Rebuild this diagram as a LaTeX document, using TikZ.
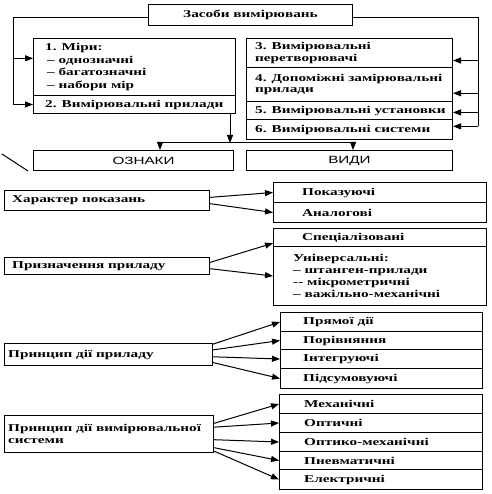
\documentclass[tikz,border=0pt]{standalone}
\usepackage{fontspec}
\newfontfamily\sw[FakeStretch=1.45]{Liberation Serif}
\newfontfamily\ssw[FakeStretch=1.45]{Liberation Sans}
\usetikzlibrary{arrows.meta,calc}
\begin{document}
\begin{tikzpicture}[x=1pt,y=-1pt,
  box/.style={draw, line width=1pt, inner sep=0pt, anchor=north west},
  f/.style={font=\sw\bfseries\fontsize{10.5}{#1}\selectfont},
  f/.default=12,
  txt/.style={inner sep=0pt, anchor=west, align=left, f=#1},
  txt/.default=12,
  sf/.style={inner sep=0pt, font=\ssw\fontsize{10.5}{12}\selectfont},
  arr/.style={line width=1pt, -{Triangle[length=8pt,width=6pt]}},
  ln/.style={line width=1pt}]
\useasboundingbox (0,0) rectangle (491,494);

% top
\node[box, minimum width=204pt, minimum height=21pt, f] (top) at (148,4) {Засоби вимірювань};

% left group
\node[box, minimum width=202pt, minimum height=57pt] (L1) at (33,38) {};
\node[box, minimum width=202pt, minimum height=18pt] (L2) at (33,95) {};
\node[txt=12.5] (tL1) at ([xshift=12pt]L1.west) {1. Міри:\\\hspace*{2pt}– однозначні\\\hspace*{2pt}– багатозначні\\\hspace*{2pt}– набори мір};
\node[txt] (tL2) at ([xshift=12pt]L2.west) {2. Вимірювальні прилади};

% right group
\node[box, minimum width=206pt, minimum height=29pt] (R3) at (246,38) {};
\node[box, minimum width=206pt, minimum height=34pt] (R4) at (246,67) {};
\node[box, minimum width=206pt, minimum height=18pt] (R5) at (246,101) {};
\node[box, minimum width=206pt, minimum height=20pt] (R6) at (246,119) {};
\node[txt=11.5] (tR3) at ([xshift=9pt]R3.west) {3. Вимірювальні\\перетворювачі};
\node[txt=11.5] (tR4) at ([xshift=9pt]R4.west) {4. Допоміжні замірювальні\\прилади};
\node[txt] (tR5) at ([xshift=9pt]R5.west) {5. Вимірювальні установки};
\node[txt] (tR6) at ([xshift=9pt]R6.west) {6. Вимірювальні системи};

% left bracket
\coordinate (tl) at ($(top.north west)!0.62!(top.south west)$);
\coordinate (lv) at (13,0);
\draw[ln] (tl) -- (tl -| lv) -- (lv |- L2.west);
\draw[arr] (lv |- L2.west) -- (L2.west);
\coordinate (a1) at ($(L1.north west)!0.35!(L1.south west)$);
\draw[arr] (a1 -| lv) -- (a1);

% right bracket
\coordinate (tr) at ($(top.north east)!0.62!(top.south east)$);
\coordinate (rv) at (478,0);
\coordinate (b3) at ($(R3.north east)!0.75!(R3.south east)$);
\coordinate (b4) at ($(R4.north east)!0.75!(R4.south east)$);
\coordinate (b5) at ($(R5.north east)!0.6!(R5.south east)$);
\coordinate (b6) at ($(R6.north east)!0.35!(R6.south east)$);
\draw[ln] (tr) -- (tr -| rv) -- (rv |- b6);
\draw[arr] (rv |- b3) -- (b3);
\draw[arr] (rv |- b4) -- (b4);
\draw[arr] (rv |- b5) -- (b5);
\draw[arr] (rv |- b6) -- (b6);

% ОЗНАКИ / ВИДИ
\node[box, minimum width=200pt, minimum height=20pt] (OZ) at (33,150) {};
\node[box, minimum width=206pt, minimum height=20pt] (VD) at (246,150) {};
\node[sf] (tOZ) at ($(OZ.center)+(10,0)$) {ОЗНАКИ};
\node[sf] (tVD) at (VD.center) {ВИДИ};
\coordinate (d0) at ($(L2.south east)+(-6,0)$);
\coordinate (hz1) at (160,143);
\coordinate (hz2) at (353,143);
\draw[arr] (d0) -- (d0 |- hz1);
\draw[ln] (hz1) -- (hz2);
\draw[arr] (hz1) -- (hz1 |- OZ.north);
\draw[arr] (hz2) -- (hz2 |- VD.north);
\draw[ln] (2,154) -- (28,171);

% Характер показань
\node[box, minimum width=205pt, minimum height=20pt] (XP) at (4,190) {};
\node[txt] (tXP) at ([xshift=8pt]XP.west) {Характер показань};
\node[box, minimum width=213pt, minimum height=20pt] (P1) at (273,182) {};
\node[box, minimum width=213pt, minimum height=20pt] (P2) at (273,202) {};
\node[txt] (tP1) at ([xshift=29pt]P1.west) {Показуючі};
\node[txt] (tP2) at ([xshift=29pt]P2.west) {Аналогові};
\draw[arr] ($(XP.north east)!0.35!(XP.south east)$) -- (P1.west);
\draw[arr] ($(XP.north east)!0.65!(XP.south east)$) -- (P2.west);

% Призначення приладу
\node[box, minimum width=205pt, minimum height=17pt] (PP) at (4,257) {};
\node[txt] (tPP) at ([xshift=8pt]PP.west) {Призначення приладу};
\node[box, minimum width=213pt, minimum height=18pt] (S1) at (273,228) {};
\node[box, minimum width=213pt, minimum height=59pt] (S2) at (273,246) {};
\node[txt] (tS1) at ([xshift=29pt]S1.west) {Спеціалізовані};
\node[txt] (tS2) at ([xshift=20pt]S2.west) {Універсальні:\\– штанген-прилади\\-{}- мікрометричні\\– важільно-механічні};
\draw[arr] ($(PP.north east)!0.3!(PP.south east)$) -- ($(S1.west)!0.6!(S1.south west)$);
\draw[arr] ($(PP.north east)!0.65!(PP.south east)$) -- (S2.west);

% Принцип дії приладу
\node[box, minimum width=208pt, minimum height=22pt] (PD) at (4,343) {};
\node[txt] (tPD) at ([xshift=4pt]PD.west) {Принцип дії приладу};
\node[box, minimum width=202pt, minimum height=19pt] (D1) at (280,312) {};
\node[box, minimum width=202pt, minimum height=18pt] (D2) at (280,331) {};
\node[box, minimum width=202pt, minimum height=19pt] (D3) at (280,349) {};
\node[box, minimum width=202pt, minimum height=20pt] (D4) at (280,368) {};
\node[txt] (tD1) at ([xshift=23pt]D1.west) {Прямої дії};
\node[txt] (tD2) at ([xshift=23pt]D2.west) {Порівняння};
\node[txt] (tD3) at ([xshift=23pt]D3.west) {Інтегруючі};
\node[txt] (tD4) at ([xshift=23pt]D4.west) {Підсумовуючі};
\draw[arr] ($(PD.north east)!0.05!(PD.south east)$) -- (D1.west);
\draw[arr] ($(PD.north east)!0.3!(PD.south east)$) -- (D2.west);
\draw[arr] ($(PD.north east)!0.6!(PD.south east)$) -- (D3.west);
\draw[arr] ($(PD.north east)!0.85!(PD.south east)$) -- (D4.west);

% Принцип дії вимірювальної системи
\node[box, minimum width=209pt, minimum height=37pt] (PS) at (4,415) {};
\node[txt=11.5] (tPS) at ([xshift=4pt]PS.west) {Принцип дії вимірювальної\\системи};
\node[box, minimum width=203pt, minimum height=19pt] (E1) at (279,394) {};
\node[box, minimum width=203pt, minimum height=19pt] (E2) at (279,413) {};
\node[box, minimum width=203pt, minimum height=19pt] (E3) at (279,432) {};
\node[box, minimum width=203pt, minimum height=18pt] (E4) at (279,451) {};
\node[box, minimum width=203pt, minimum height=20pt] (E5) at (279,469) {};
\node[txt] (tE1) at ([xshift=25pt]E1.west) {Механічні};
\node[txt] (tE2) at ([xshift=25pt]E2.west) {Оптичні};
\node[txt] (tE3) at ([xshift=25pt]E3.west) {Оптико-механічні};
\node[txt] (tE4) at ([xshift=25pt]E4.west) {Пневматичні};
\node[txt] (tE5) at ([xshift=25pt]E5.west) {Електричні};
\draw[arr] ($(PS.north east)!0.22!(PS.south east)$) -- (E1.west);
\draw[arr] ($(PS.north east)!0.32!(PS.south east)$) -- (E2.west);
\draw[arr] ($(PS.north east)!0.65!(PS.south east)$) -- (E3.west);
\draw[arr] ($(PS.north east)!0.86!(PS.south east)$) -- (E4.west);
\draw[arr] ($(PS.north east)!0.95!(PS.south east)$) -- (E5.west);
\end{tikzpicture}
\end{document}
